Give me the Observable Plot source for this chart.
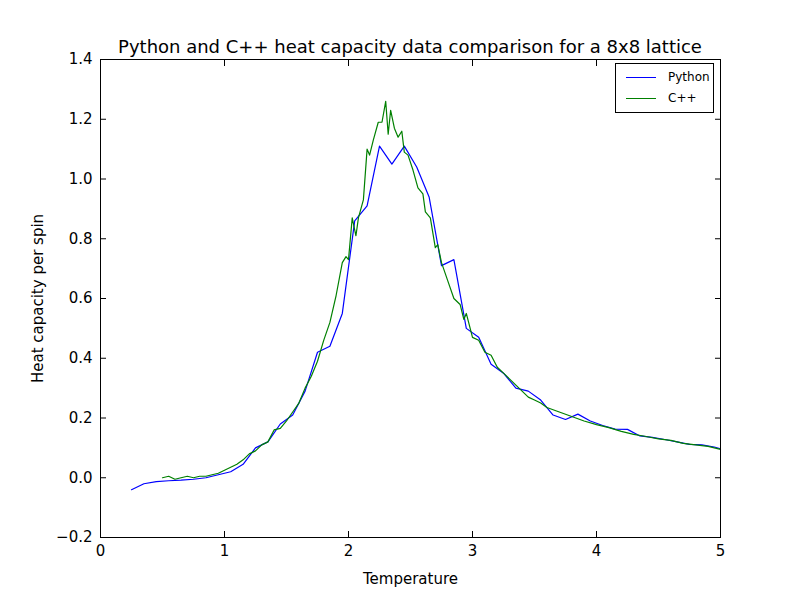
<!DOCTYPE html>
<html><head><meta charset="utf-8">
<script src="https://cdn.jsdelivr.net/npm/d3@7"></script>
<script src="https://cdn.jsdelivr.net/npm/@observablehq/plot@0.6"></script>
<style>body{margin:0;background:#fff;font-family:"DejaVu Sans";} #wrap{position:relative;width:800px;height:597px;}
#leg{position:absolute;left:615px;top:63px;width:97px;height:48px;border:1px solid #000;background:#fff;font-size:12px;}
#leg div{position:absolute;left:10px;display:flex;align-items:center;} #leg span.l{display:inline-block;width:30px;height:0;border-top:1.3px solid;margin-right:12px;}
</style></head><body><div id="wrap"></div>
<script>
const pyT=[0.25,0.35,0.45,0.55,0.65,0.75,0.85,0.95,1.05,1.15,1.25,1.35,1.45,1.55,1.65,1.75,1.85,1.95,2.05,2.15,2.25,2.35,2.45,2.55,2.65,2.75,2.85,2.95,3.05,3.15,3.25,3.35,3.45,3.55,3.65,3.75,3.85,3.95,4.05,4.15,4.25,4.35,4.45,4.55,4.65,4.75,4.85,4.95,5.0];
const pyC=[-0.04,-0.02,-0.013,-0.01,-0.008,-0.005,0.0,0.01,0.02,0.045,0.10,0.12,0.18,0.21,0.29,0.42,0.44,0.55,0.86,0.91,1.11,1.05,1.11,1.04,0.94,0.71,0.73,0.50,0.47,0.38,0.35,0.30,0.29,0.26,0.21,0.195,0.213,0.19,0.175,0.163,0.162,0.14,0.135,0.128,0.12,0.112,0.11,0.103,0.097];
const cT=[0.50,0.55,0.60,0.65,0.70,0.75,0.80,0.85,0.90,0.95,1.00,1.05,1.10,1.15,1.20,1.25,1.30,1.35,1.40,1.45,1.50,1.55,1.60,1.65,1.70,1.75,1.80,1.85,1.90,1.95,1.98,2.00,2.03,2.06,2.08,2.12,2.15,2.17,2.20,2.24,2.27,2.30,2.32,2.34,2.37,2.40,2.43,2.45,2.48,2.52,2.56,2.60,2.62,2.66,2.70,2.72,2.75,2.80,2.85,2.90,2.93,2.95,3.00,3.05,3.10,3.15,3.20,3.25,3.30,3.35,3.40,3.45,3.50,3.55,3.60,3.70,3.80,3.90,4.00,4.10,4.20,4.30,4.40,4.50,4.60,4.70,4.80,4.90,5.00];
const cC=[0.0,0.005,-0.005,0.0,0.005,0.0,0.005,0.005,0.01,0.015,0.025,0.035,0.045,0.06,0.08,0.09,0.11,0.12,0.16,0.165,0.19,0.22,0.25,0.30,0.34,0.39,0.46,0.52,0.61,0.72,0.74,0.73,0.87,0.81,0.87,0.93,1.10,1.08,1.13,1.19,1.19,1.26,1.15,1.23,1.17,1.14,1.16,1.09,1.08,1.03,0.97,0.95,0.89,0.87,0.77,0.78,0.72,0.66,0.60,0.58,0.53,0.55,0.47,0.46,0.42,0.41,0.37,0.35,0.33,0.31,0.29,0.27,0.26,0.25,0.235,0.22,0.205,0.19,0.178,0.168,0.155,0.145,0.138,0.13,0.125,0.115,0.11,0.105,0.095];
const xTicks=[0,1,2,3,4,5];
const yTicks=[-0.2,0,0.2,0.4,0.6,0.8,1.0,1.2,1.4];
const py=pyT.map((t,i)=>({t,c:pyC[i]}));
const cp=cT.map((t,i)=>({t,c:cC[i]}));
const fmtY=d=>(d<0?"\u2212":"")+Math.abs(d).toFixed(1);
const chart=Plot.plot({
  width:800,height:597,marginLeft:100,marginRight:80,marginTop:59,marginBottom:60,
  style:{fontFamily:"DejaVu Sans",fontSize:"15px",color:"#000"},
  x:{domain:[0,5]},y:{domain:[-0.2,1.4]},
  marks:[
    Plot.line(py,{x:"t",y:"c",stroke:"#0000ff",strokeWidth:1.2}),
    Plot.line(cp,{x:"t",y:"c",stroke:"#008000",strokeWidth:1.2}),
    Plot.frame({stroke:"#000"}),
    Plot.axisX({ticks:xTicks,tickSize:-6,tickPadding:14,tickFormat:d=>d,label:"Temperature",labelAnchor:"center",labelArrow:"none",labelOffset:46,fontSize:15}),
    Plot.axisX({anchor:"top",ticks:xTicks,tickSize:-6,tickFormat:()=>"",label:null}),
    Plot.axisY({ticks:yTicks,tickSize:-6,tickPadding:14,tickFormat:fmtY,label:"Heat capacity per spin",labelAnchor:"center",labelArrow:"none",labelOffset:68,fontSize:15}),
    Plot.axisY({anchor:"right",ticks:yTicks,tickSize:-6,tickFormat:()=>"",label:null})
  ]
});
const w=document.getElementById("wrap");
w.appendChild(chart);
const title=document.createElement("div");
title.textContent="Python and C++ heat capacity data comparison for a 8x8 lattice";
title.style.cssText="position:absolute;left:0;width:820px;top:36px;text-align:center;font-size:18px;";
w.appendChild(title);
const leg=document.createElement("div");leg.id="leg";
leg.innerHTML='<div style="top:6px"><span class="l" style="border-color:#0000ff"></span>Python</div><div style="top:27px"><span class="l" style="border-color:#008000"></span>C++</div>';
w.appendChild(leg);
</script></body></html>
